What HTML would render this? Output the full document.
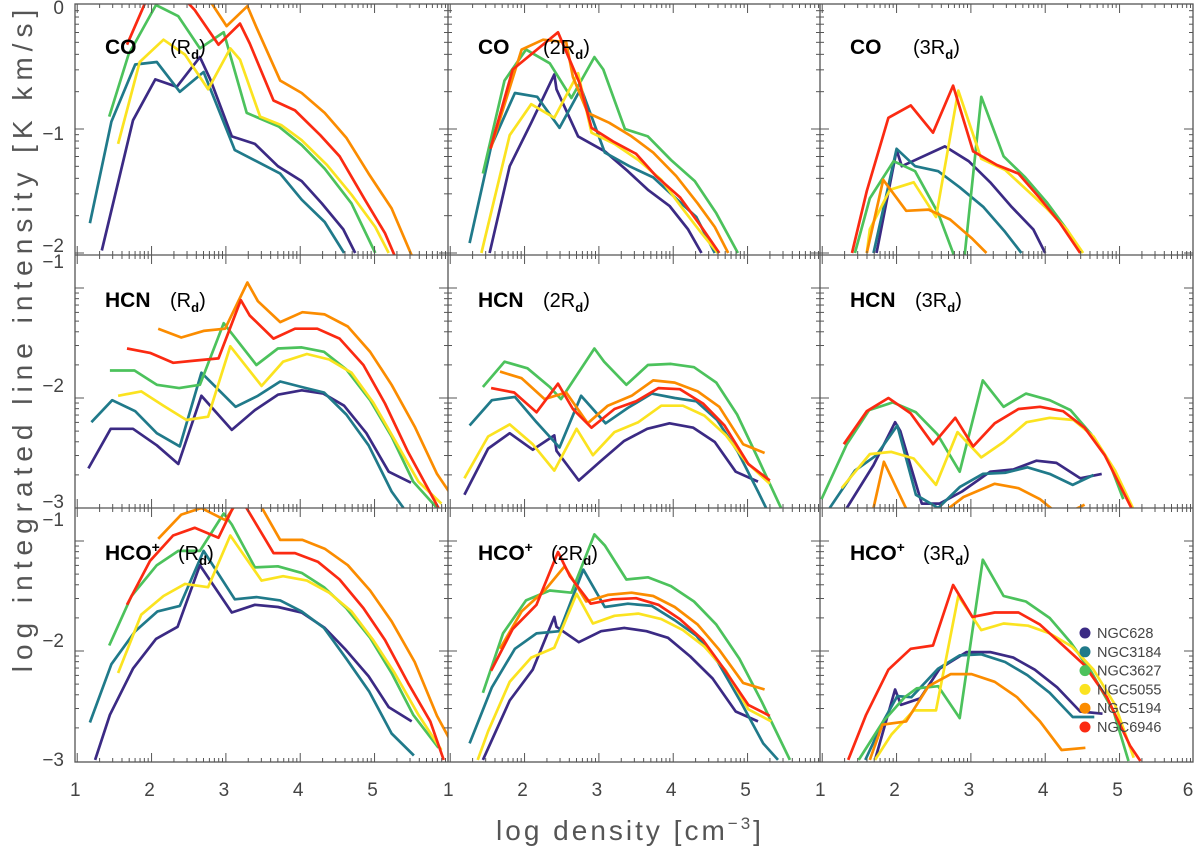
<!DOCTYPE html>
<html><head><meta charset="utf-8"><style>
html,body{margin:0;padding:0;background:#fff;}
svg{display:block;font-family:"Liberation Sans",sans-serif;}
</style></head><body>
<svg id="chart" width="1200" height="850" viewBox="0 0 1200 850">
<g id="plots"></g>
<g id="axes"></g>
</svg>
<script>
// ---- data: [log density, log intensity] ----
const co1_628=[[1.33,-1.98],[1.75,-0.93],[2.05,-0.60],[2.34,-0.66],[2.65,-0.42],[2.79,-0.60],[3.08,-1.06],[3.39,-1.12],[3.70,-1.30],[4.02,-1.42],[4.29,-1.60],[4.58,-1.81],[4.74,-2.0]];
const co1_3184=[[1.17,-1.76],[1.46,-0.94],[1.78,-0.48],[2.07,-0.46],[2.38,-0.70],[2.70,-0.54],[3.12,-1.17],[3.41,-1.26],[3.73,-1.36],[4.02,-1.57],[4.33,-1.75],[4.59,-2.0]];
const co1_3627=[[1.43,-0.90],[1.69,-0.40],[2.06,0],[2.36,-0.09],[2.65,-0.35],[2.97,-0.22],[3.28,-0.87],[3.71,-0.98],[4.02,-1.13],[4.33,-1.32],[4.69,-1.60],[5.01,-2.0]];
const co1_5055=[[1.55,-1.12],[1.84,-0.46],[2.16,-0.28],[2.45,-0.40],[2.76,-0.68],[3.06,-0.35],[3.19,-0.44],[3.46,-0.90],[3.75,-0.97],[4.02,-1.09],[4.36,-1.29],[4.69,-1.53],[5.01,-1.79],[5.19,-2.0]];
const co1_5194=[[2.5,0.2],[2.79,0.03],[3.01,-0.17],[3.29,-0.01],[3.41,-0.18],[3.73,-0.61],[4.02,-0.71],[4.33,-0.87],[4.62,-1.07],[4.92,-1.36],[5.23,-1.64],[5.50,-2.02]];
const co1_6946=[[1.67,-0.32],[1.93,0.04],[2.2,0.15],[2.47,0.03],[2.58,-0.04],[2.90,-0.32],[3.19,-0.15],[3.32,-0.31],[3.64,-0.77],[3.93,-0.85],[4.27,-1.05],[4.53,-1.22],[4.87,-1.57],[5.14,-1.84],[5.27,-2.02]];

const co2_628=[[1.53,-2.0],[1.80,-1.30],[2.09,-0.95],[2.40,-0.56],[2.43,-0.68],[2.72,-1.06],[3.08,-1.18],[3.39,-1.34],[3.66,-1.49],[3.95,-1.62],[4.20,-1.81],[4.38,-2.0]];
const co2_3184=[[1.26,-1.92],[1.55,-1.14],[1.87,-0.71],[2.17,-0.74],[2.47,-0.99],[2.76,-0.67],[3.08,-1.19],[3.41,-1.30],[3.73,-1.39],[4.02,-1.55],[4.31,-1.71],[4.56,-2.0]];
const co2_3627=[[1.44,-1.36],[1.73,-0.61],[2.02,-0.36],[2.34,-0.47],[2.63,-0.75],[2.94,-0.42],[3.06,-0.52],[3.35,-1.00],[3.66,-1.06],[3.97,-1.25],[4.29,-1.42],[4.58,-1.68],[4.87,-2.0]];
const co2_5055=[[1.42,-2.0],[1.80,-1.05],[2.09,-0.80],[2.40,-0.91],[2.72,-0.55],[2.90,-1.03],[3.21,-1.12],[3.53,-1.25],[3.84,-1.41],[4.11,-1.63],[4.38,-1.84],[4.60,-2.0]];
const co2_5194=[[1.55,-1.15],[1.96,-0.36],[2.25,-0.28],[2.56,-0.30],[2.65,-0.58],[2.85,-0.87],[3.14,-0.95],[3.44,-1.06],[3.73,-1.19],[4.04,-1.38],[4.33,-1.60],[4.56,-1.79],[4.74,-2.0]];
const co2_6946=[[1.54,-1.16],[1.84,-0.52],[2.45,-0.22],[2.74,-0.63],[2.90,-0.99],[3.19,-1.10],[3.50,-1.20],[3.77,-1.38],[4.09,-1.55],[4.38,-1.79],[4.62,-2.0]];

const co3_628=[[1.73,-2.0],[2.00,-1.17],[2.07,-1.30],[2.65,-1.14],[2.97,-1.26],[3.26,-1.43],[3.55,-1.63],[3.84,-1.81],[4.00,-2.0]];
const co3_3184=[[1.69,-2.0],[2.00,-1.16],[2.25,-1.30],[2.56,-1.34],[2.85,-1.47],[3.17,-1.63],[3.46,-1.83],[3.68,-2.0]];
const co3_3627=[[1.44,-2.0],[1.64,-1.56],[1.96,-1.26],[2.25,-1.34],[2.56,-1.68],[2.76,-2.0],[2.85,-2.4],[2.92,-2.0],[3.14,-0.74],[3.44,-1.22],[3.73,-1.39],[4.02,-1.59],[4.29,-1.81],[4.49,-2.0]];
const co3_5055=[[1.60,-2.0],[1.64,-1.81],[1.91,-1.49],[2.23,-1.43],[2.53,-1.71],[2.83,-0.69],[3.14,-1.24],[3.46,-1.33],[3.75,-1.49],[4.02,-1.64],[4.29,-1.81],[4.51,-2.0]];
const co3_5194=[[1.60,-2.0],[1.82,-1.41],[2.13,-1.66],[2.43,-1.65],[2.72,-1.73],[3.01,-1.88],[3.21,-2.0]];
const co3_6946=[[1.40,-2.0],[1.60,-1.50],[1.89,-0.91],[2.19,-0.81],[2.49,-1.03],[2.76,-0.65],[3.03,-1.18],[3.35,-1.29],[3.64,-1.36],[3.93,-1.56],[4.20,-1.76],[4.47,-2.0]];

const hcn1_628=[[1.15,-2.64],[1.45,-2.28],[1.75,-2.28],[2.07,-2.43],[2.36,-2.60],[2.67,-1.98],[3.08,-2.29],[3.39,-2.11],[3.70,-1.97],[4.02,-1.93],[4.31,-1.96],[4.59,-2.07],[4.89,-2.32],[5.19,-2.67],[5.49,-2.77]];
const hcn1_3184=[[1.19,-2.22],[1.47,-2.02],[1.78,-2.12],[2.07,-2.32],[2.38,-2.44],[2.67,-1.77],[3.13,-2.08],[3.43,-1.98],[3.73,-1.85],[4.02,-1.90],[4.32,-1.95],[4.62,-2.15],[4.92,-2.43],[5.23,-2.85],[5.39,-3.0]];
const hcn1_3627=[[1.44,-1.75],[1.77,-1.75],[2.07,-1.88],[2.37,-1.91],[2.65,-1.88],[2.97,-1.32],[3.41,-1.70],[3.70,-1.55],[4.02,-1.54],[4.32,-1.58],[4.62,-1.74],[4.94,-2.02],[5.23,-2.35],[5.52,-2.76],[5.84,-3.0]];
const hcn1_5055=[[1.55,-1.98],[1.86,-1.94],[2.16,-2.07],[2.47,-2.20],[2.76,-2.17],[3.06,-1.53],[3.48,-1.89],[3.77,-1.67],[4.09,-1.60],[4.39,-1.65],[4.69,-1.77],[4.98,-2.04],[5.27,-2.38],[5.59,-2.76],[5.90,-2.96]];
const hcn1_5194=[[2.09,-1.37],[2.40,-1.45],[2.70,-1.39],[2.99,-1.37],[3.29,-0.95],[3.43,-1.12],[3.73,-1.31],[4.03,-1.22],[4.33,-1.24],[4.64,-1.35],[4.94,-1.58],[5.23,-1.88],[5.54,-2.26],[5.84,-2.69],[6.0,-2.85]];
const hcn1_6946=[[1.67,-1.55],[1.98,-1.59],[2.29,-1.68],[2.58,-1.66],[2.90,-1.64],[3.20,-1.11],[3.32,-1.25],[3.64,-1.46],[3.93,-1.37],[4.23,-1.37],[4.53,-1.46],[4.85,-1.70],[5.14,-2.05],[5.45,-2.49],[5.86,-3.0]];

const hcn2_628=[[1.19,-2.88],[1.51,-2.46],[1.80,-2.32],[2.11,-2.47],[2.40,-2.34],[2.43,-2.48],[2.73,-2.75],[3.03,-2.57],[3.34,-2.39],[3.65,-2.28],[3.95,-2.23],[4.27,-2.27],[4.56,-2.40],[4.84,-2.67],[5.14,-2.76]];
const hcn2_3184=[[1.26,-2.25],[1.56,-2.02],[1.87,-1.99],[2.16,-2.22],[2.47,-2.45],[2.76,-1.98],[3.09,-2.23],[3.39,-2.09],[3.71,-1.96],[4.02,-2.00],[4.31,-2.03],[4.59,-2.20],[4.87,-2.49],[5.14,-2.85],[5.25,-3.0]];
const hcn2_3627=[[1.44,-1.90],[1.73,-1.67],[2.04,-1.73],[2.34,-1.90],[2.49,-2.01],[2.94,-1.55],[3.07,-1.67],[3.37,-1.88],[3.66,-1.70],[3.97,-1.69],[4.28,-1.72],[4.58,-1.86],[4.86,-2.15],[5.14,-2.55],[5.45,-3.0]];
const hcn2_5055=[[1.19,-2.73],[1.51,-2.35],[1.80,-2.24],[2.11,-2.42],[2.40,-2.66],[2.70,-2.28],[2.92,-2.52],[3.21,-2.31],[3.53,-2.22],[3.84,-2.07],[4.13,-2.07],[4.42,-2.16],[4.71,-2.34],[4.98,-2.58],[5.30,-2.78]];
const hcn2_5194=[[1.67,-1.76],[1.96,-1.82],[2.27,-2.01],[2.56,-1.95],[2.85,-2.23],[3.12,-2.07],[3.44,-1.98],[3.73,-1.84],[4.02,-1.86],[4.33,-1.94],[4.62,-2.08],[4.94,-2.42],[5.23,-2.50]];
const hcn2_6946=[[1.55,-1.91],[1.86,-1.95],[2.16,-2.13],[2.45,-1.87],[2.65,-2.10],[2.90,-2.27],[3.21,-2.10],[3.50,-2.03],[3.80,-1.91],[4.09,-1.92],[4.40,-2.05],[4.69,-2.25],[5.01,-2.60],[5.30,-2.75]];

const hcn3_628=[[1.33,-3.0],[1.69,-2.61],[1.98,-2.22],[2.05,-2.30],[2.34,-2.96],[2.58,-2.96],[2.88,-2.85],[3.26,-2.67],[3.57,-2.65],[3.88,-2.57],[4.15,-2.59],[4.47,-2.73],[4.76,-2.69]];
const hcn3_3184=[[1.10,-3.0],[1.44,-2.66],[1.73,-2.52],[2.01,-2.25],[2.26,-2.88],[2.56,-3.0],[2.85,-2.81],[3.16,-2.69],[3.46,-2.68],[3.76,-2.63],[4.06,-2.69],[4.37,-2.79],[4.65,-2.70]];
const hcn3_3627=[[0.99,-2.92],[1.33,-2.42],[1.63,-2.11],[1.95,-2.04],[2.26,-2.13],[2.55,-2.33],[2.85,-2.67],[3.16,-1.84],[3.44,-2.08],[3.74,-1.96],[4.06,-2.02],[4.34,-2.11],[4.62,-2.33],[4.86,-2.58],[5.05,-2.92]];
const hcn3_5055=[[1.26,-2.82],[1.64,-2.51],[1.93,-2.49],[2.23,-2.55],[2.53,-2.79],[2.82,-2.31],[3.14,-2.54],[3.44,-2.40],[3.75,-2.22],[4.06,-2.18],[4.38,-2.20],[4.65,-2.35],[4.94,-2.66],[5.18,-3.0]];
const hcn3_5194=[[1.69,-3.0],[1.83,-2.58],[2.16,-3.05],[2.4,-3.3],[2.61,-3.05],[2.90,-2.90],[3.32,-2.78],[3.64,-2.82],[3.93,-2.92],[4.11,-3.02],[4.25,-3.2],[4.38,-3.02],[4.53,-2.97]];
const hcn3_6946=[[1.29,-2.42],[1.60,-2.12],[1.89,-2.00],[2.19,-2.14],[2.49,-2.42],[2.79,-2.18],[3.03,-2.44],[3.32,-2.23],[3.64,-2.10],[3.93,-2.08],[4.24,-2.12],[4.53,-2.27],[4.80,-2.52],[5.16,-3.0]];

const hco1_628=[[1.24,-2.99],[1.44,-2.58],[1.75,-2.16],[2.06,-1.89],[2.35,-1.78],[2.65,-1.22],[3.08,-1.65],[3.39,-1.58],[3.70,-1.60],[4.02,-1.65],[4.33,-1.79],[4.60,-1.98],[4.92,-2.23],[5.19,-2.51],[5.50,-2.64]];
const hco1_3184=[[1.17,-2.65],[1.46,-2.12],[1.78,-1.82],[2.08,-1.64],[2.38,-1.59],[2.70,-1.09],[3.12,-1.53],[3.41,-1.51],[3.73,-1.54],[4.02,-1.64],[4.32,-1.79],[4.62,-2.07],[4.93,-2.37],[5.23,-2.75],[5.53,-2.95]];
const hco1_3627=[[1.43,-1.95],[1.73,-1.50],[2.07,-1.22],[2.36,-1.09],[2.65,-1.09],[2.97,-0.75],[3.08,-0.85],[3.39,-1.24],[3.70,-1.23],[4.02,-1.29],[4.32,-1.42],[4.62,-1.61],[4.94,-1.88],[5.23,-2.20],[5.52,-2.58],[5.86,-2.88]];
const hco1_5055=[[1.55,-2.20],[1.86,-1.67],[2.16,-1.50],[2.45,-1.39],[2.76,-1.42],[3.06,-0.95],[3.48,-1.36],[3.77,-1.32],[4.09,-1.36],[4.39,-1.47],[4.69,-1.64],[4.98,-1.90],[5.27,-2.20],[5.59,-2.58],[5.90,-2.90]];
const hco1_5194=[[2.09,-0.98],[2.40,-0.76],[2.67,-0.70],[2.99,-0.81],[3.3,-0.5],[3.46,-0.67],[3.73,-0.99],[4.03,-0.99],[4.33,-1.07],[4.64,-1.22],[4.94,-1.45],[5.23,-1.73],[5.54,-2.10],[5.84,-2.59],[6.0,-2.79]];
const hco1_6946=[[1.67,-1.58],[1.98,-1.18],[2.29,-0.95],[2.58,-0.88],[2.90,-0.97],[3.2,-0.55],[3.26,-0.68],[3.64,-1.11],[3.93,-1.11],[4.24,-1.19],[4.53,-1.35],[4.85,-1.61],[5.14,-1.90],[5.45,-2.29],[5.75,-2.64],[5.93,-2.99]];

const hco2_628=[[1.44,-2.99],[1.80,-2.45],[2.11,-2.17],[2.40,-1.69],[2.43,-1.78],[2.73,-1.92],[3.03,-1.82],[3.34,-1.79],[3.64,-1.82],[3.93,-1.88],[4.23,-2.05],[4.53,-2.25],[4.84,-2.55],[5.14,-2.64]];
const hco2_3184=[[1.26,-2.84],[1.56,-2.33],[1.87,-1.98],[2.16,-1.84],[2.47,-1.82],[2.79,-1.26],[3.08,-1.60],[3.39,-1.57],[3.71,-1.59],[4.02,-1.72],[4.31,-1.86],[4.60,-2.10],[4.89,-2.44],[5.21,-2.84],[5.41,-2.99]];
const hco2_3627=[[1.44,-2.38],[1.71,-1.84],[2.02,-1.54],[2.34,-1.45],[2.63,-1.47],[2.94,-0.94],[3.08,-1.04],[3.37,-1.35],[3.66,-1.33],[3.97,-1.41],[4.28,-1.55],[4.58,-1.76],[4.89,-2.07],[5.19,-2.46],[5.57,-2.99]];
const hco2_5055=[[1.37,-2.99],[1.51,-2.73],[1.80,-2.28],[2.09,-2.06],[2.40,-1.97],[2.70,-1.48],[2.92,-1.75],[3.21,-1.68],[3.53,-1.66],[3.84,-1.71],[4.13,-1.81],[4.42,-1.96],[4.71,-2.18],[5.01,-2.53],[5.32,-2.64]];
const hco2_5194=[[1.67,-1.98],[1.96,-1.64],[2.27,-1.45],[2.54,-1.23],[2.83,-1.55],[3.12,-1.49],[3.44,-1.47],[3.73,-1.50],[4.02,-1.60],[4.33,-1.76],[4.62,-1.99],[4.94,-2.29],[5.23,-2.35]];
const hco2_6946=[[1.55,-2.18],[1.84,-1.80],[2.16,-1.58],[2.45,-1.10],[2.61,-1.32],[2.89,-1.57],[3.19,-1.53],[3.50,-1.52],[3.80,-1.58],[4.09,-1.71],[4.40,-1.90],[4.69,-2.17],[5.01,-2.49],[5.30,-2.59]];

const hco3_628=[[1.71,-2.99],[1.98,-2.35],[2.06,-2.49],[2.32,-2.43],[2.58,-2.16],[2.94,-2.01],[3.26,-2.01],[3.57,-2.06],[3.86,-2.17],[4.16,-2.33],[4.47,-2.55],[4.77,-2.57]];
const hco3_3184=[[1.58,-2.99],[1.82,-2.64],[2.01,-2.41],[2.20,-2.42],[2.56,-2.16],[2.85,-2.04],[3.14,-2.03],[3.46,-2.10],[3.76,-2.22],[4.06,-2.38],[4.37,-2.60],[4.66,-2.60]];
const hco3_3627=[[1.49,-2.99],[1.82,-2.64],[2.11,-2.42],[2.27,-2.34],[2.56,-2.32],[2.85,-2.61],[3.16,-1.17],[3.44,-1.50],[3.74,-1.55],[4.06,-1.70],[4.34,-1.92],[4.62,-2.19],[4.92,-2.55],[5.12,-3.0]];
const hco3_5055=[[1.71,-2.99],[1.93,-2.76],[2.23,-2.54],[2.53,-2.54],[2.83,-1.50],[3.14,-1.81],[3.44,-1.75],[3.77,-1.77],[4.06,-1.84],[4.36,-1.96],[4.65,-2.17],[4.94,-2.49],[5.19,-2.97]];
const hco3_5194=[[1.64,-2.99],[1.81,-2.67],[2.13,-2.64],[2.43,-2.32],[2.73,-2.21],[3.01,-2.21],[3.32,-2.28],[3.62,-2.42],[3.93,-2.64],[4.22,-2.90],[4.54,-2.88]];
const hco3_6946=[[1.35,-2.99],[1.59,-2.58],[1.89,-2.17],[2.19,-1.98],[2.49,-1.95],[2.76,-1.40],[3.02,-1.69],[3.32,-1.65],[3.64,-1.65],[3.93,-1.76],[4.24,-1.95],[4.53,-2.13],[4.83,-2.42],[5.14,-2.86],[5.28,-3.0]];

const galaxies=["NGC628","NGC3184","NGC3627","NGC5055","NGC5194","NGC6946"];
const colors=["#3b2a84","#207a8a","#4cc25c","#fbe320","#fb8c00","#fb2a12"];
const xTickLabels=["1","2","3","4","5"];

const panels=[
 {name:"co-rd",mol:"CO",r:"R",col:0,row:0,series:[co1_628,co1_3184,co1_3627,co1_5055,co1_5194,co1_6946]},
 {name:"co-2rd",mol:"CO",r:"2R",col:1,row:0,series:[co2_628,co2_3184,co2_3627,co2_5055,co2_5194,co2_6946]},
 {name:"co-3rd",mol:"CO",r:"3R",col:2,row:0,series:[co3_628,co3_3184,co3_3627,co3_5055,co3_5194,co3_6946]},
 {name:"hcn-rd",mol:"HCN",r:"R",col:0,row:1,series:[hcn1_628,hcn1_3184,hcn1_3627,hcn1_5055,hcn1_5194,hcn1_6946]},
 {name:"hcn-2rd",mol:"HCN",r:"2R",col:1,row:1,series:[hcn2_628,hcn2_3184,hcn2_3627,hcn2_5055,hcn2_5194,hcn2_6946]},
 {name:"hcn-3rd",mol:"HCN",r:"3R",col:2,row:1,series:[hcn3_628,hcn3_3184,hcn3_3627,hcn3_5055,hcn3_5194,hcn3_6946]},
 {name:"hco-rd",mol:"HCO",r:"R",col:0,row:2,series:[hco1_628,hco1_3184,hco1_3627,hco1_5055,hco1_5194,hco1_6946]},
 {name:"hco-2rd",mol:"HCO",r:"2R",col:1,row:2,series:[hco2_628,hco2_3184,hco2_3627,hco2_5055,hco2_5194,hco2_6946]},
 {name:"hco-3rd",mol:"HCO",r:"3R",col:2,row:2,series:[hco3_628,hco3_3184,hco3_3627,hco3_5055,hco3_5194,hco3_6946]}
];

const NS="http://www.w3.org/2000/svg";
const colLeft=[75,448,820], colRight=[448,820,1193];
const rowTop=[4,255,508], rowBot=[255,508,762];
function xScale(col,x){return colLeft[col]+74.33*(x-0.97);}
function yScale(row,y){
  if(row===0) return 5-124*y;
  if(row===1) return 178-110*y;
  return 431-110*y;
}
function mk(tag,attrs,parent){const e=document.createElementNS(NS,tag);for(const k in attrs)e.setAttribute(k,attrs[k]);parent.appendChild(e);return e;}

const plots=document.getElementById('plots');
const axes=document.getElementById('axes');
const defs=mk('defs',{},plots);
panels.forEach((p,i)=>{
  const L=colLeft[p.col],R=colRight[p.col],T=rowTop[p.row],B=rowBot[p.row];
  const cp=mk('clipPath',{id:'cp'+i},defs);
  mk('rect',{x:L,y:T,width:R-L,height:B-T},cp);
  const g=mk('g',{'clip-path':'url(#cp'+i+')'},plots);
  
  
  p.series.forEach((s,j)=>{
    const d=s.map((pt,k)=>(k?'L':'M')+xScale(p.col,pt[0]).toFixed(1)+' '+yScale(p.row,pt[1]).toFixed(1)).join(' ');
    const path=mk('path',{d:d,fill:'none',stroke:colors[j],'stroke-width':2.7,'stroke-linejoin':'round'},g);
    
    
  });
  const lab=mk('text',{x:L+30,y:T+(p.row===0?50:52),'font-size':21,fill:'#000'},axes);
  
  
  const tm=mk('tspan',{'font-weight':'bold'},lab);
  tm.textContent=p.mol;
  if(p.mol==='HCO'){const sp=mk('tspan',{'font-weight':'bold',dy:-8,'font-size':14},lab);sp.textContent='+';}
  const rx=p.mol==='CO'?(p.col===2?L+93:L+95):(p.mol==='HCN'?L+95:L+103);
  const t2=mk('tspan',{x:rx,dy:p.mol==='HCO'?8:0,'font-size':20},lab);t2.textContent='('+p.r;
  const t3=mk('tspan',{dy:5,'font-size':13,'font-weight':'bold'},lab);t3.textContent='d';
  const t4=mk('tspan',{dy:-5,'font-size':20},lab);t4.textContent=')';
  for(let n=1;n<=6;n++){
    const px=xScale(p.col,n);
    if(px>L+1&&px<R-1){
      mk('line',{x1:px,x2:px,y1:B,y2:B-9,stroke:'#555','stroke-width':1},axes);
      mk('line',{x1:px,x2:px,y1:T,y2:T+9,stroke:'#555','stroke-width':1},axes);
    }
    for(let k=2;k<=9;k++){
      const mx=xScale(p.col,n+Math.log10(k));
      if(mx>L+1&&mx<R-1){
        mk('line',{x1:mx,x2:mx,y1:B,y2:B-4,stroke:'#555','stroke-width':1},axes);
        mk('line',{x1:mx,x2:mx,y1:T,y2:T+4,stroke:'#555','stroke-width':1},axes);
      }
    }
  }
  for(let n=-4;n<=0;n++){
    const py=yScale(p.row,n);
    if(py>T+1&&py<B-1){
      mk('line',{x1:L,x2:L+9,y1:py,y2:py,stroke:'#555','stroke-width':1},axes);
      mk('line',{x1:R,x2:R-9,y1:py,y2:py,stroke:'#555','stroke-width':1},axes);
    }
    for(let k=2;k<=9;k++){
      const my=yScale(p.row,n+Math.log10(k));
      if(my>T+1&&my<B-1){
        mk('line',{x1:L,x2:L+4,y1:my,y2:my,stroke:'#555','stroke-width':1},axes);
        mk('line',{x1:R,x2:R-4,y1:my,y2:my,stroke:'#555','stroke-width':1},axes);
      }
    }
  }
});
const fr=mk('g',{fill:'none',stroke:'#555','stroke-width':1.3},axes);


mk('rect',{x:75,y:4,width:1118,height:758},fr);
mk('line',{x1:448,x2:448,y1:4,y2:762},fr);
mk('line',{x1:820,x2:820,y1:4,y2:762},fr);
mk('line',{x1:75,x2:1193,y1:255,y2:255},fr);
mk('line',{x1:75,x2:1193,y1:508,y2:508},fr);

[0,1,2].forEach(c=>{
  xTickLabels.forEach(lbl=>{
    const t=mk('text',{x:xScale(c,+lbl)-2,y:796,'font-size':19,'text-anchor':'middle',fill:'#444'},axes);
    t.textContent=lbl;
    
    
  });
});
{const t=mk('text',{x:1188,y:796,'font-size':19,'text-anchor':'middle',fill:'#444'},axes);t.textContent='6';

}
const yLabs=[["0",14],["−1",140],["−2",252],["−1",268],["−2",392],["−3",508],["−1",526],["−2",647],["−3",766]];
yLabs.forEach(l=>{
  const t=mk('text',{x:64,y:l[1],'font-size':19,'text-anchor':'end',fill:'#444'},axes);
  t.textContent=l[0];
  
  
});
galaxies.forEach((gname,j)=>{
  const y=633+j*18.8;
  const c=mk('circle',{cx:1085,cy:y,r:5.5,fill:colors[j]},axes);
  
  
  const t=mk('text',{x:1097,y:y+5,'font-size':14.5,fill:'#444'},axes);
  t.textContent=gname;
  
  
});
{const t=mk('text',{x:630,y:840,'font-size':28,'text-anchor':'middle',fill:'#555','letter-spacing':3},axes);


t.textContent='log density [cm';
const s=mk('tspan',{dy:-11,'font-size':17},t);s.textContent='−3';
const e=mk('tspan',{dy:11},t);e.textContent=']';}
{const t=mk('text',{x:0,y:0,'font-size':28,'text-anchor':'middle',fill:'#555','letter-spacing':6,transform:'translate(32,338) rotate(-90)'},axes);


t.textContent='log integrated line intensity [K km/s]';}
</script>
</body></html>
